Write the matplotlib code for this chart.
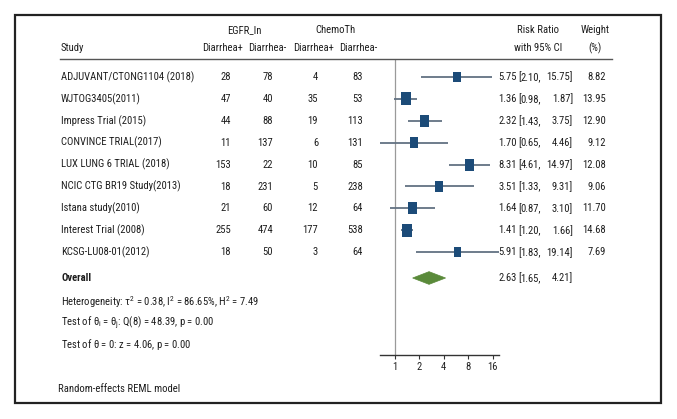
#!/usr/bin/env python3
# forest plot: EGFR inhibitor vs chemotherapy, diarrhea risk ratio
import numpy as np
import matplotlib
matplotlib.use("Agg")
import matplotlib.pyplot as plt
import matplotlib.transforms as mtrans
from matplotlib import font_manager as fm
from matplotlib.lines import Line2D
from matplotlib.patches import Rectangle, Polygon

# narrow sans font, first one that is installed
have = set(f.name for f in fm.fontManager.ttflist)
narrow = 'Liberation Sans'
for nm in ['Liberation Sans Narrow', 'Arial Narrow', 'Roboto Condensed', 'PT Sans Narrow',
           'Archivo Narrow', 'Open Sans Condensed', 'Barlow Semi Condensed']:
    if nm in have:
        narrow = nm
        break
plt.rcParams['font.family'] = [narrow, 'DejaVu Sans']
plt.rcParams['mathtext.fontset'] = 'custom'
plt.rcParams['mathtext.rm'] = narrow
plt.rcParams['mathtext.it'] = narrow

# ------------------------------------------------------------------------
# data
studies = ["ADJUVANT/CTONG1104 (2018)", "WJTOG3405(2011)", "Impress Trial (2015)",
           "CONVINCE TRIAL(2017)", "LUX LUNG 6 TRIAL (2018)", "NCIC CTG BR19 Study(2013)",
           "Istana study(2010)", "Interest Trial (2008)", "KCSG-LU08-01(2012)"]
egfr_pos = [28, 47, 44, 11, 153, 18, 21, 255, 18]
egfr_neg = [78, 40, 88, 137, 22, 231, 60, 474, 50]
chemo_pos = [4, 35, 19, 6, 10, 5, 12, 177, 3]
chemo_neg = [83, 53, 113, 131, 85, 238, 64, 538, 64]
rr = [5.75, 1.36, 2.32, 1.70, 8.31, 3.51, 1.64, 1.41, 5.91]
rr_lo = [2.10, 0.98, 1.43, 0.65, 4.61, 1.33, 0.87, 1.20, 1.83]
rr_hi = [15.75, 1.87, 3.75, 4.46, 14.97, 9.31, 3.10, 1.66, 19.14]
weight = [8.82, 13.95, 12.90, 9.12, 12.08, 9.06, 11.70, 14.68, 7.69]
overall = [2.63, 1.65, 4.21]
xticks = [1, 2, 4, 8, 16]

W, H = 677, 419
def fx(px): return px / W
def fy(py): return 1 - py / H

fig = plt.figure(figsize=(W / 100, H / 100), dpi=100)

# font size so that the longest study name is ~132 px wide
renderer = fig.canvas.get_renderer()
probe = fig.text(0, 0, studies[0], fontsize=10)
wpx = probe.get_window_extent(renderer).width
probe.remove()
fs = min(9.0, 10.0 * 133.0 / wpx)
tc = '#1e1e1e'

# forest axes: rows in data units, 21.9 px per row
row0, rowstep = 77, 21.9
top_px, bot_px = 59, 355
ylo = (bot_px - row0) / rowstep
yhi = (top_px - row0) / rowstep
xlo, xhi = min(rr_lo), max(rr_hi)
pxper = 24.4
left_px = 395 + np.log2(xlo) * pxper
right_px = 395 + np.log2(xhi) * pxper
ax = fig.add_axes([fx(left_px), fy(bot_px), fx(right_px - left_px), (bot_px - top_px) / H])
ax.set_xscale('log', base=2)
ax.set_xlim(xlo, xhi)
ax.set_ylim(ylo, yhi)
for s in ['top', 'right', 'left']:
    ax.spines[s].set_visible(False)
ax.spines['bottom'].set_linewidth(1.0)
ax.spines['bottom'].set_color('#333333')
ax.set_yticks([])
ax.set_xticks(xticks)
ax.set_xticklabels([str(t) for t in xticks])
ax.xaxis.set_minor_locator(matplotlib.ticker.NullLocator())
ax.tick_params(axis='x', length=3, width=0.8, color='#333333', labelsize=fs,
               pad=2, labelcolor='#222222')
ax.patch.set_visible(False)

ax.axvline(1, color='#9a9a9a', lw=0.9, zorder=1)

rows = np.arange(len(studies))
ax.hlines(rows, rr_lo, rr_hi, color='#627282', lw=1.3, zorder=2)
box = [(-0.39, -0.5), (0.39, -0.5), (0.39, 0.5), (-0.39, 0.5), (-0.39, -0.5)]
ax.scatter(rr, rows, s=np.array(weight) * 6.2, marker=box, color='#1c4b78',
           edgecolors='none', zorder=3)

ov_row = (278 - row0) / rowstep
dh = 0.29
diamond = Polygon([(overall[1], ov_row), (overall[0], ov_row - dh),
                   (overall[2], ov_row), (overall[0], ov_row + dh)],
                  closed=True, facecolor='#5a8a3a', edgecolor='#5a8a3a', lw=0.5, zorder=3)
ax.add_patch(diamond)

# ------------------------------------------------------------------------
# text columns (x in figure fraction, y in row units)
tr = mtrans.blended_transform_factory(fig.transFigure, ax.transData)

def put(px, row, s, ha='left', **kw):
    ax.text(fx(px), row, s, transform=tr, ha=ha, va='center', fontsize=fs,
            color=tc, clip_on=False, **kw)

for i in rows:
    put(61, i, studies[i])
    put(231, i, str(egfr_pos[i]), 'right')
    put(273, i, str(egfr_neg[i]), 'right')
    put(318, i, str(chemo_pos[i]), 'right')
    put(363, i, str(chemo_neg[i]), 'right')
    put(517, i, "%.2f" % rr[i], 'right')
    put(518, i, "[", 'left')
    put(541, i, "%.2f," % rr_lo[i], 'right')
    put(573, i, "%.2f]" % rr_hi[i], 'right')
    put(606, i, "%.2f" % weight[i], 'right')

put(61, ov_row, "Overall", fontweight='bold')
put(517, ov_row, "%.2f" % overall[0], 'right')
put(518, ov_row, "[", 'left')
put(541, ov_row, "%.2f," % overall[1], 'right')
put(573, ov_row, "%.2f]" % overall[2], 'right')

put(61, (302 - row0) / rowstep,
    r"Heterogeneity: $\tau^2$ = 0.38, I$^2$ = 86.65%, H$^2$ = 7.49")
put(61, (323 - row0) / rowstep,
    r"Test of $\theta_\mathrm{i}$ = $\theta_\mathrm{j}$: Q(8) = 48.39, p = 0.00")
put(61, (344 - row0) / rowstep, r"Test of $\theta$ = 0: z = 4.06, p = 0.00")

# header
def htext(px, py, s, ha='center'):
    fig.text(fx(px), fy(py), s, ha=ha, va='center', fontsize=fs, color=tc)

htext(244, 30, "EGFR_In")
htext(335, 30, "ChemoTh")
htext(61, 48, "Study", 'left')
htext(223, 48, "Diarrhea+")
htext(267, 48, "Diarrhea-")
htext(314, 48, "Diarrhea+")
htext(358, 48, "Diarrhea-")
htext(538, 30, "Risk Ratio")
htext(538, 48, "with 95% CI")
htext(595, 30, "Weight")
htext(595, 48, "(%)")
fig.text(fx(58), fy(389), "Random-effects REML model", ha='left', va='center',
         fontsize=fs, color=tc)

fig.add_artist(Line2D([fx(60), fx(612)], [fy(59), fy(59)], transform=fig.transFigure,
                      color='#555555', lw=1.0))
fig.add_artist(Rectangle((fx(15), fy(403)), fx(661 - 15), (403 - 15) / H,
                         transform=fig.transFigure, fill=False, edgecolor='#222222', lw=1.6))

fig.savefig("out.png", dpi=100, facecolor='white')
